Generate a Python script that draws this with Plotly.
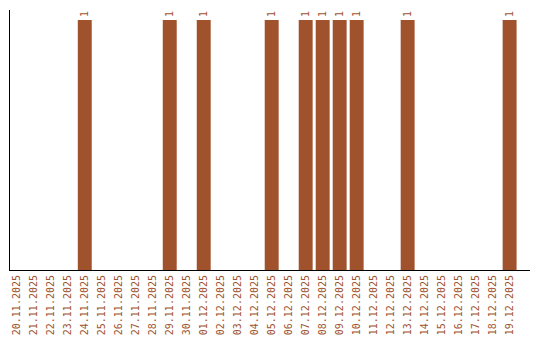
import plotly.graph_objects as go

dates = ["20.11.2025","21.11.2025","22.11.2025","23.11.2025","24.11.2025","25.11.2025",
         "26.11.2025","27.11.2025","28.11.2025","29.11.2025","30.11.2025","01.12.2025",
         "02.12.2025","03.12.2025","04.12.2025","05.12.2025","06.12.2025","07.12.2025",
         "08.12.2025","09.12.2025","10.12.2025","11.12.2025","12.12.2025","13.12.2025",
         "14.12.2025","15.12.2025","16.12.2025","17.12.2025","18.12.2025","19.12.2025"]
counts = [0,0,0,0,1,0,0,0,0,1,0,1,0,0,0,1,0,1,1,1,1,0,0,1,0,0,0,0,0,1]

color = "#A0522D"
labels = [str(v) if v else "" for v in counts]

fig = go.Figure(go.Bar(
    x=dates, y=counts, marker_color=color, marker_line_width=0,
    width=0.82,
    text=labels, textposition="outside", textangle=-90,
    textfont=dict(family="DejaVu Sans Mono", size=10, color=color),
    cliponaxis=False,
))
fig.update_layout(
    width=540, height=340,
    margin=dict(l=10, r=10, t=10, b=70),
    plot_bgcolor="white", paper_bgcolor="white",
    showlegend=False, bargap=0.18,
    font=dict(family="DejaVu Sans Mono", size=10, color=color),
)
fig.update_xaxes(type="category", range=[-0.4, 30.2], tickangle=-90,
                 showline=True, linecolor="black", linewidth=1,
                 showgrid=False, ticks="", automargin=False,
                 tickfont=dict(family="DejaVu Sans Mono", size=10, color=color))
fig.update_yaxes(range=[0, 1.04], showline=True, linecolor="black", linewidth=1,
                 showgrid=False, zeroline=False, showticklabels=False, ticks="")
fig.write_html("out.html")
